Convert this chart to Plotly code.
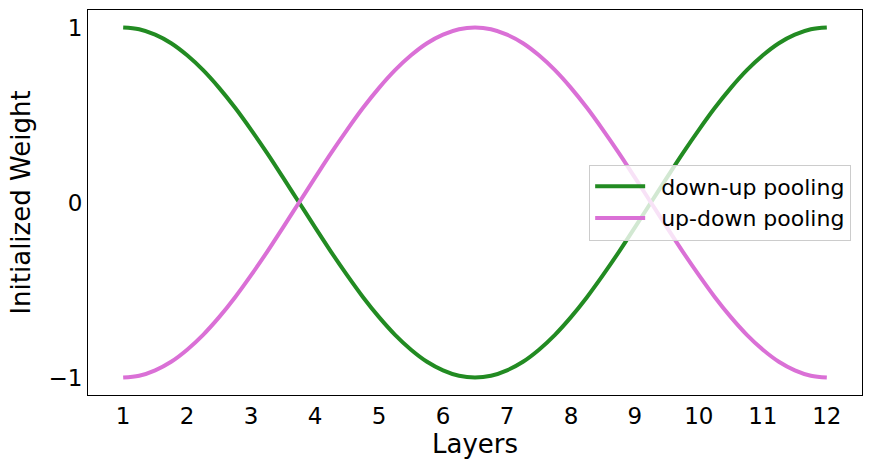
import plotly.graph_objects as go

layers = [1 + 0.25 * i for i in range(45)]
down_up = [1.000, 0.990, 0.959, 0.910, 0.841, 0.756, 0.655, 0.541, 0.415, 0.282, 0.142, 0.000,
           -0.142, -0.282, -0.415, -0.541, -0.655, -0.756, -0.841, -0.910, -0.959, -0.990, -1.000,
           -0.990, -0.959, -0.910, -0.841, -0.756, -0.655, -0.541, -0.415, -0.282, -0.142, 0.000,
           0.142, 0.282, 0.415, 0.541, 0.655, 0.756, 0.841, 0.910, 0.959, 0.990, 1.000]
up_down = [-1.000, -0.990, -0.959, -0.910, -0.841, -0.756, -0.655, -0.541, -0.415, -0.282, -0.142, 0.000,
           0.142, 0.282, 0.415, 0.541, 0.655, 0.756, 0.841, 0.910, 0.959, 0.990, 1.000,
           0.990, 0.959, 0.910, 0.841, 0.756, 0.655, 0.541, 0.415, 0.282, 0.142, 0.000,
           -0.142, -0.282, -0.415, -0.541, -0.655, -0.756, -0.841, -0.910, -0.959, -0.990, -1.000]
series_names = ["down-up pooling", "up-down pooling"]
x_ticks = list(range(1, 13))
y_ticks = [-1, 0, 1]
y_tick_text = ["\u22121", "0", "1"]

font = "DejaVu Sans"
fig = go.Figure()
fig.add_trace(go.Scatter(x=layers, y=down_up, mode="lines", name="\u2002" + series_names[0],
                         line=dict(color="#228B22", width=4, shape="spline")))
fig.add_trace(go.Scatter(x=layers, y=up_down, mode="lines", name="\u2002" + series_names[1],
                         line=dict(color="#DA70D6", width=4, shape="spline")))

fig.update_layout(
    width=872, height=469,
    margin=dict(l=88, r=10, t=10, b=74),
    paper_bgcolor="white", plot_bgcolor="white",
    font=dict(family=font, color="black"),
    legend=dict(x=0.986, y=0.5, xanchor="right", yanchor="middle", itemwidth=50,
                bgcolor="rgba(255,255,255,0.8)", bordercolor="#cccccc", borderwidth=1,
                font=dict(size=22, family=font)),
    xaxis=dict(range=[0.45, 12.55], tickvals=x_ticks, ticks="", showgrid=False, zeroline=False,
               showline=True, mirror=True, linecolor="black", linewidth=1, automargin=False,
               tickfont=dict(size=23), title=dict(text="Layers", font=dict(size=26), standoff=7)),
    yaxis=dict(range=[-1.1, 1.1], tickvals=y_ticks, ticktext=y_tick_text, ticks="",
               showgrid=False, zeroline=False, automargin=False,
               showline=True, mirror=True, linecolor="black", linewidth=1,
               tickfont=dict(size=23), title=dict(text="Initialized Weight", font=dict(size=26), standoff=10)),
)
fig.write_html("out.html", config={"displayModeBar": False},
               post_script="document.body.style.margin='0';")
